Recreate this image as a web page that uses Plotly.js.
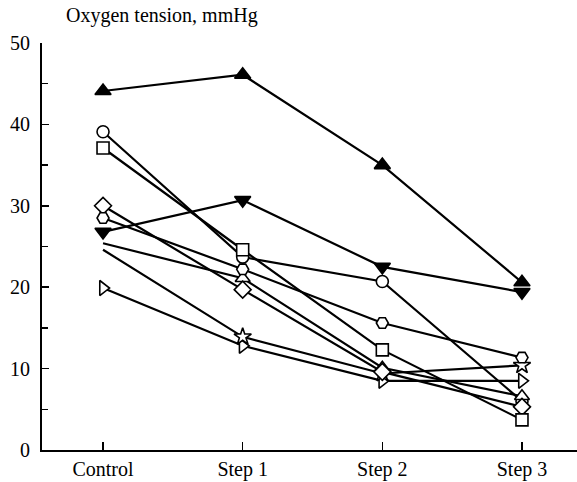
<!DOCTYPE html>
<html>
<head>
<meta charset="utf-8">
<script src="https://cdn.plot.ly/plotly-3.0.1.min.js"></script>
<style>html,body{margin:0;padding:0;background:#fff;}#chart{width:577px;height:482px;}</style>
</head>
<body>
<div id="chart"></div>
<script>
// Data
var categories = ['Control', 'Step 1', 'Step 2', 'Step 3'];
var filledUp     = [44.1, 46.1, 35.0, 20.6];
var filledDown   = [26.8, 30.7, 22.5, 19.4];
var openCircle   = [39.1, 23.7, 20.7, 6.0];
var openSquare   = [37.1, 24.6, 12.3, 3.7];
var openDiamond  = [30.0, 19.7, 9.6, 5.3];
var openHexagon  = [28.5, 22.2, 15.6, 11.35];
var openTriangle = [25.4, 21.1, 10.1, 6.6];
var openStar     = [24.6, 13.9, 9.4, 10.4];
var openRight    = [19.9, 12.8, 8.5, 8.5];
var yTickVals = [0, 10, 20, 30, 40, 50];

var xIdx = categories.map(function (c, i) { return i; });

function series(vals, symbol, filled, size, hideFirst) {
  var sizes = vals.map(function (v, i) { return (hideFirst && i === 0) ? 0 : size; });
  return {
    type: 'scatter', mode: 'lines+markers',
    x: xIdx, y: vals,
    line: {color: '#000', width: 2.2},
    marker: {symbol: symbol, size: sizes, color: filled ? '#000' : '#fff', opacity: 1,
             line: {color: '#000', width: 1.6}},
    cliponaxis: false, showlegend: false, hoverinfo: 'skip'
  };
}

var traces = [
  series(openCircle, 'circle', false, 12),
  series(openRight, 'triangle-right', false, 13),
  series(openStar, 'star', false, 13, true),
  series(openTriangle, 'triangle-up', false, 13, true),
  series(openDiamond, 'diamond', false, 13),
  series(openSquare, 'square', false, 12),
  series(openHexagon, 'hexagon2', false, 12),
  series(filledDown, 'triangle-down', true, 14),
  series(filledUp, 'triangle-up', true, 14)
];

var fontFam = '"Liberation Serif", "Times New Roman", serif';

var layout = {
  width: 577, height: 482,
  margin: {l: 42, r: 0, t: 43, b: 32, pad: 0},
  paper_bgcolor: '#fff', plot_bgcolor: '#fff',
  font: {family: fontFam, size: 20, color: '#000'},
  xaxis: {
    range: [-0.437, 3.394],
    tickvals: xIdx, ticktext: categories,
    ticks: 'inside', ticklen: 8, tickwidth: 1.5, tickcolor: '#000',
    showline: true, linecolor: '#000', linewidth: 2,
    showgrid: false, zeroline: false,
    tickfont: {family: fontFam, size: 20, color: '#000'}
  },
  yaxis: {
    range: [0, 50],
    tickvals: yTickVals,
    ticks: 'inside', ticklen: 7, tickwidth: 1.5, tickcolor: '#000',
    ticklabelstandoff: 6,
    minor: {dtick: 5, tick0: 0, ticks: 'inside', ticklen: 6, tickwidth: 1.5, tickcolor: '#000', showgrid: false},
    showline: true, linecolor: '#000', linewidth: 2,
    showgrid: false, zeroline: false,
    tickfont: {family: fontFam, size: 20, color: '#000'}
  },
  annotations: [{
    text: 'Oxygen tension, mmHg', showarrow: false,
    xref: 'paper', yref: 'paper', x: 0, y: 1,
    xanchor: 'left', yanchor: 'middle', xshift: 22, yshift: 28,
    font: {family: fontFam, size: 20, color: '#000'}
  }]
};

Plotly.newPlot('chart', traces, layout, {displayModeBar: false, staticPlot: true});
</script>
</body>
</html>
